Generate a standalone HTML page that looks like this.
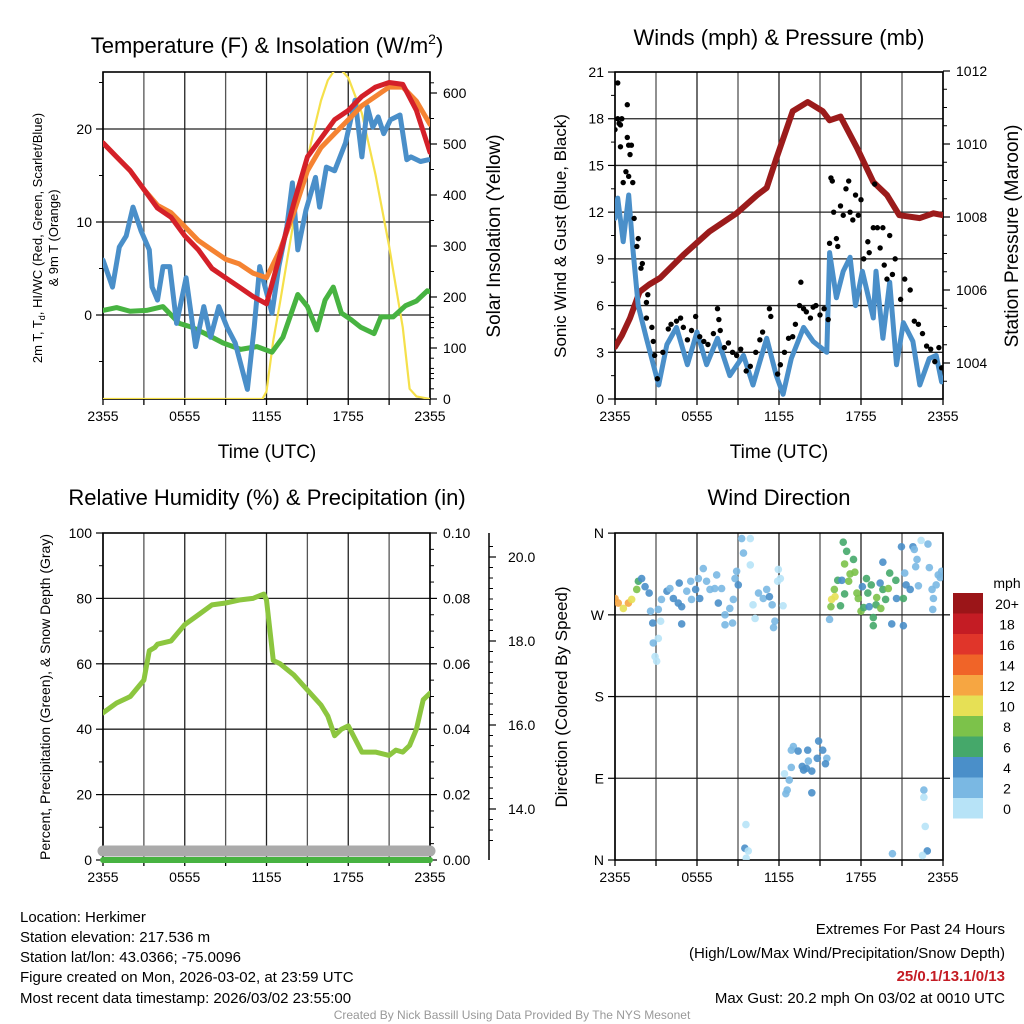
<!DOCTYPE html>
<html><head><meta charset="utf-8"><style>
html,body{margin:0;padding:0;background:#fff;}
svg{display:block;font-family:"Liberation Sans",Arial,sans-serif;}
</style></head><body>
<svg id="c" width="1024" height="1024" viewBox="0 0 1024 1024" xmlns="http://www.w3.org/2000/svg">
<defs>
<clipPath id="c1"><rect x="103" y="72" width="327" height="327"/></clipPath>
<clipPath id="c2"><rect x="615" y="72" width="328" height="327"/></clipPath>
<clipPath id="c3"><rect x="103" y="533" width="327" height="330"/></clipPath>
<clipPath id="c4"><rect x="615" y="533" width="328" height="327"/></clipPath>
</defs>
<g id="static">
<text x="267" y="53" font-size="22" text-anchor="middle">Temperature (F) &amp; Insolation (W/m<tspan font-size="14" dy="-9">2</tspan><tspan dy="9">)</tspan></text>
<text x="779" y="45" font-size="22" text-anchor="middle">Winds (mph) &amp; Pressure (mb)</text>
<text x="267" y="505" font-size="22" text-anchor="middle">Relative Humidity (%) &amp; Precipitation (in)</text>
<text x="779" y="505" font-size="22" text-anchor="middle">Wind Direction</text>
<text x="267" y="458" font-size="19" text-anchor="middle">Time (UTC)</text>
<text x="779" y="458" font-size="19" text-anchor="middle">Time (UTC)</text>
<g font-size="13" text-anchor="middle">
<text transform="translate(42,238) rotate(-90)">2m T, T<tspan font-size="9" dy="3">d</tspan><tspan dy="-3">, HI/WC (Red, Green, Scarlet/Blue)</tspan></text>
<text transform="translate(58,238) rotate(-90)">&amp; 9m T (Orange)</text>
</g>
<text transform="translate(500,236) rotate(-90)" font-size="19" text-anchor="middle">Solar Insolation (Yellow)</text>
<text transform="translate(566,236) rotate(-90)" font-size="17" text-anchor="middle">Sonic Wind &amp; Gust (Blue, Black)</text>
<text transform="translate(1018,236) rotate(-90)" font-size="19" text-anchor="middle">Station Pressure (Maroon)</text>
<text transform="translate(50,697) rotate(-90)" font-size="14" text-anchor="middle">Percent, Precipitation (Green), &amp; Snow Depth (Gray)</text>
<text transform="translate(567,697) rotate(-90)" font-size="17" text-anchor="middle">Direction (Colored By Speed)</text>
<g font-size="15">
<text x="20" y="922">Location: Herkimer</text>
<text x="20" y="942">Station elevation: 217.536 m</text>
<text x="20" y="962">Station lat/lon: 43.0366; -75.0096</text>
<text x="20" y="982">Figure created on Mon, 2026-03-02, at 23:59 UTC</text>
<text x="20" y="1003">Most recent data timestamp: 2026/03/02 23:55:00</text>
</g>
<g font-size="15" text-anchor="end">
<text x="1005" y="934">Extremes For Past 24 Hours</text>
<text x="1005" y="958">(High/Low/Max Wind/Precipitation/Snow Depth)</text>
<text x="1005" y="981" fill="#c41c24" font-weight="bold">25/0.1/13.1/0/13</text>
<text x="1005" y="1003">Max Gust: 20.2 mph On 03/02 at 0010 UTC</text>
</g>
<text x="512" y="1019" font-size="12" fill="#999" text-anchor="middle">Created By Nick Bassill Using Data Provided By The NYS Mesonet</text>
<text x="1007" y="588" font-size="14" text-anchor="middle">mph</text>
</g>
<g id="dyn"></g>
</svg>
<script>
// ---- data ----
const timeTicks=["2355","0555","1155","1755","2355"];
const tempTickVals=[0,10,20];
const insTickVals=[0,100,200,300,400,500,600];
const windTickVals=[0,3,6,9,12,15,18,21];
const presTickVals=[1004,1006,1008,1010,1012];
const rhTickVals=[0,20,40,60,80,100];
const precTickLabels=["0.00","0.02","0.04","0.06","0.08","0.10"];
const precTickVals=[0,0.02,0.04,0.06,0.08,0.10];
const snowTickVals=[14,16,18,20];
const dirTickLabels=["N","E","S","W","N"];
const dirTickVals=[0,90,180,270,360];

const hourly=[0,1,2,3,4,5,6,7,8,9,10,11,12,13,14,15,16,17,18,19,20,21,22,23,24];
const tempRed=[18.5,17,15.5,13.5,11.5,10.5,8.5,7,5,4,3,2,1.2,6.5,12,17,19,21,22,23.5,24.5,25,24.8,22,17.5];
const temp9m=[18.5,17,15.5,13.5,11.8,11,9.5,8,7,6,5.5,4.5,4,7,11,15.5,18,19.5,21,22.5,23.5,24.5,24.5,23,20.5];
const dewH=[0,0.7,1.2,1.7,2.2,2.8,3.4,3.6,4,4.4,4.9,5.4,6.1,6.8,7.4,7.9,8.5,9.1,9.7,10.6,11.1,11.5,12.4,12.9,13.5,13.9,14.3,14.9,15.6,15.9,16.4,17,17.8,18.5,19,19.4,19.8,20.2,20.6,21.1,21.8,22.3,22.6,23.3,23.9];
const dewVal=[5.9,3,7.3,8.5,11.6,9,7,3,1.6,5.2,5.2,-0.9,4,-3.4,0.9,-2.4,0.9,-1.3,-3,-8,-1.3,5.2,0.2,5.2,9.5,14.2,7,11.3,14.8,11.6,15.9,15.5,18.5,23.1,17,22.4,20.2,21.3,19.5,21,21.5,16.7,17,16.5,16.7];
const hiH=[0,1,2,3.2,4.4,5.6,6.5,7.5,8.8,10.1,11.3,12.4,13.2,14.3,15,15.7,16.3,16.9,17.5,18.2,18.9,19.9,20.4,21.3,22.2,23,23.8,24];
const hiVal=[0.5,0.8,0.4,0.5,0.9,-0.9,-1.3,-2,-3,-3.7,-3.4,-4,-2.4,2.2,0.9,-1.6,1.6,3,0.2,-0.5,-1.3,-2,-0.2,-0.2,1,1.5,2.6,2.5];
const insH=[0,11.7,12,12.5,13,13.5,14,14.5,15,15.5,16,16.5,17,17.5,18,19,20,21,21.5,22,22.5,23,24];
const insVal=[0,0,15,115,190,270,350,415,470,530,585,625,645,645,630,560,440,300,220,140,20,5,0];

const presH=[0,0.5,1.1,1.8,2.5,3.3,5,6.9,8.9,10.4,11.1,11.8,13,14.1,15.2,15.7,16.5,17.7,18.9,19.9,20.8,22.3,23.3,24];
const presVal=[1004.44,1004.75,1005.23,1005.95,1006.15,1006.33,1006.96,1007.6,1008.1,1008.6,1008.8,1009.6,1010.9,1011.15,1010.9,1010.65,1010.75,1009.9,1008.96,1008.6,1008.05,1007.97,1008.1,1008.05];
const windH=[0,0.2,0.6,1,1.3,1.7,2.3,3.2,3.8,4.5,5.3,6,6.7,7.5,8.4,9.4,10.1,11.1,11.8,12.3,12.9,13.8,14.5,15.5,15.7,16.2,16.7,17.2,17.6,18.1,18.9,19.1,19.6,20.1,20.6,21.1,21.8,22.3,23,23.5,23.9];
const windVal=[11.6,12.9,10.1,13.1,9.7,6,3.9,0.9,3.5,4.6,2.2,4.3,2.2,3.9,1.5,2.8,0.9,3.9,1.5,0.3,2.6,4.6,3.7,3,9.4,6.5,8.2,9.1,6,8.2,5.2,8.2,3.9,7.5,2.2,4.9,3.7,0.9,2.6,2.8,1.1];
const gustH=[0,0.2,0.2,0.3,0.4,0.5,0.9,0.9,0.4,1,1.2,1.1,0.6,0.8,1,1.3,1.4,1.7,1.6,2,1.9,2.4,2.3,2.3,2.7,2.8,2.9,3.1,3.5,3.9,4.1,4.5,4.8,5,5.3,5.6,5.9,6.2,6.5,6.8,7.2,7.5,7.6,7.7,8,8.3,8.6,8.9,9.2,9.6,9.9,10.3,10.6,10.8,11.3,11.4,11.9,12.1,12.4,12.7,13,13.2,13.5,13.6,13.8,14,14.3,14.5,14.7,15,15.3,15.6,15.7,15.8,15.9,16,16.2,16.3,16.5,16.7,16.9,17.1,17.2,17.4,17.6,17.8,18,18.2,18.5,18.6,18.9,19,19.2,19.4,19.6,19.7,19.9,20.1,20.3,20.5,20.9,21.2,21.6,21.9,22.2,22.5,22.8,23.1,23.4,23.7,23.9];
const gustVal=[17.3,20.3,18,17.7,17.6,18,18.9,16.8,16.2,16.3,16.3,15.7,13.9,14.6,14.3,13.9,11.6,10.3,9.8,8.7,8.4,6.7,6.2,5.2,4.6,3.7,2.8,1.3,3,4.5,4.8,5,5.2,4.6,3.8,4.4,5.3,4,3.7,3.5,4.2,5.8,5.1,4.4,3.3,3.6,3,2.8,3.2,1.8,2.1,3,3.8,4.3,5.8,5.3,1.6,2.2,3,3.9,4,4.8,6,7.5,5.8,5.6,5.2,5.9,6,5.4,5.8,5.1,10,14.2,14,12,10.3,9.8,12.4,11.8,13.5,14,12,11.5,13.1,11.8,12.8,9,10.1,9.4,11,13.8,11,9.7,11,8.6,7.7,10.5,8,9,6.4,7.7,7,5,4.8,4.2,3.4,3.2,2.4,3.3,2];

const rhH=[0,1,2,3,3.4,3.8,4,5,6,7,8,9,10,11,11.8,12,12.5,13,14,15,16,16.5,17,17.5,18,18.5,19,20,21,21.5,22,22.5,23,23.5,24];
const rhVal=[45,48,50,55,64,65,66,67,72,75,78,78.6,79.5,80,81.3,79.5,61,60,56.6,52,47.4,44,38,40,41,37,33,33,32,33.6,33,35,40,49,51];
const precH=[0,24];
const precVal=[0,0];
const snowH=[0,24];
const snowVal=[13,13];

const dirH=[0,0.24,0.61,0.98,1.22,1.59,1.71,1.95,2.2,2.5,2.6,2.76,3.17,3.34,3.17,2.8,2.93,3.05,3.4,3.8,4.02,4.27,4.63,4.88,4.7,4.88,5.25,5.54,5.6,5.9,6.2,6.1,6.46,6.7,6.95,7.3,7.44,7.56,7.8,8.05,8.05,8.4,8.66,8.6,8.78,8.9,9.02,9.27,9.9,9.4,9.9,10.1,10.25,10.5,10.85,11.1,11.3,11.5,11.7,11.6,11.95,12.1,12.3,11.9,9.58,9.5,9.75,9.6,13.05,12.9,13.4,14.1,14.9,15.2,15.5,15.4,14.8,14.4,14,13.7,13.8,14.15,12.9,12.4,12.75,12.6,12.5,14.4,15.7,15.85,15.8,16.05,16.1,16.3,16.6,16.7,16.95,16.8,17.1,17.2,17.45,17.55,16.8,16.5,17.7,17.8,18,18.2,18.1,18.4,18.75,18.5,18.6,18.9,18.9,19.1,19.15,19.4,19.6,19.6,19.8,20,20.1,19.45,20.25,20.55,20.6,20.96,21.1,21.2,21.1,21.3,21.6,21.8,21.9,22.1,22,22.2,22.4,22.9,23,23.2,23.3,23.25,23.5,23.65,23.8,23.9,22.6,22.6,22.7,22.85,22.5,20.3];
const dirVal=[288,283,277,283,287,298,307,310,301,294,274,261,276,263,244,239,224,219,287,296,299,288,283,279,305,260,296,307,287,298,288,310,321,307,298,299,314,283,299,270,259,277,287,261,310,318,303,354,354,338,325,281,266,294,288,298,290,281,263,256,320,310,280,307,39,13,10,2,125,121,120,121,131,121,112,106,112,98,101,103,99,109,102,95,88,77,73,74,265,287,279,298,290,308,308,350,340,326,307,315,331,317,293,280,294,288,274,278,301,310,303,294,279,267,258,281,289,305,328,298,287,299,316,277,260,308,288,345,288,316,258,303,298,345,342,331,323,302,352,348,322,298,288,276,303,314,311,318,77,69,37,10,5,7];
const dirSpd=[12,12,10,12,10,8,6,4,4,4,2,4,2,0,0,2,0,0,2,4,2,4,4,4,4,4,2,2,2,4,4,2,2,2,2,2,2,4,2,2,2,2,2,2,2,2,4,2,0,2,0,0,0,2,2,2,4,2,2,2,0,0,0,0,0,4,0,0,2,2,4,4,4,4,2,4,4,4,4,4,4,2,2,0,2,2,2,4,2,10,8,8,10,6,4,6,6,8,8,8,6,8,6,6,8,8,8,6,4,6,6,6,4,6,6,6,8,4,4,6,6,8,6,8,4,6,4,4,6,2,4,4,4,4,2,2,2,2,0,2,2,2,2,2,2,2,2,2,2,0,0,4,0,2];
const cbLabels=["20+","18","16","14","12","10","8","6","4","2","0"];
const cbColors=["#9b1518","#c41c24","#e0352a","#f06428","#f6a642","#e6e055","#7cc24a","#45a86a","#4a8fc9","#7ab8e3","#b7e3f7"];

// ---- scales ----
const X1=h=>103+h*327/24, X2=h=>615+h*328/24;
const Yt=v=>315-v*9.3, Ys=v=>399-v*0.51;
const Yw=v=>399-v*15.57, Yp=p=>363-(p-1004)*36.5;
const Yrh=v=>860-v*3.27, Ypr=v=>860-v*3270, Ysd=v=>809-(v-14)*42;
const Yd=d=>860-d*0.908;

const NS="http://www.w3.org/2000/svg";
const root=document.getElementById('dyn');
function mk(tag,attrs,parent){const e=document.createElementNS(NS,tag);for(const k in attrs)e.setAttribute(k,attrs[k]);(parent||root).appendChild(e);return e;}
function grp(name,clip){const g=mk('g',clip?{'clip-path':'url(#'+clip+')'}:{});


return g;}
function line(xs,ys,X,Y,color,w,name,clip){const g=grp(name,clip);
const pts=xs.map((h,i)=>X(h).toFixed(1)+','+Y(ys[i]).toFixed(1)).join(' ');
const p=mk('polyline',{points:pts,fill:'none',stroke:color,'stroke-width':w,'stroke-linejoin':'round','stroke-linecap':'round'},g);

}
function txt(x,y,s,anchor,size,parent){const t=mk('text',{x:x,y:y,'text-anchor':anchor,'font-size':size||14},parent);t.textContent=s;return t;}

function frame(x0,x1,y0,y1,X,name,hgrid){
  const g=grp(name);
  for(let h=0;h<=24;h+=3){mk('line',{x1:X(h),x2:X(h),y1:y0,y2:y1,stroke:(h%6===0)?'#222':'#555','stroke-width':1.3},g);
    mk('line',{x1:X(h),x2:X(h),y1:y1,y2:y1+6,stroke:'#000','stroke-width':1.3},g);}
  hgrid.forEach(y=>mk('line',{x1:x0,x2:x1,y1:y,y2:y,stroke:'#222','stroke-width':1.3},g));
  mk('rect',{x:x0,y:y0,width:x1-x0,height:y1-y0,fill:'none',stroke:'#000','stroke-width':1.6},g);
  timeTicks.forEach((s,i)=>{const t=txt(X(i*6),y1+22,s,'middle',14,g);
    
    });
  return g;}
function leftTicks(vals,labels,Y,x,g,minor){vals.forEach((v,i)=>{mk('line',{x1:x-7,x2:x,y1:Y(v),y2:Y(v),stroke:'#000','stroke-width':1.2},g);
  const t=txt(x-11,Y(v)+5,labels?labels[i]:String(v),'end',14,g);
  
  });
  (minor||[]).forEach(v=>mk('line',{x1:x-4,x2:x,y1:Y(v),y2:Y(v),stroke:'#000','stroke-width':1},g));}
function rightTicks(vals,labels,Y,x,g,minor){vals.forEach((v,i)=>{mk('line',{x1:x,x2:x+7,y1:Y(v),y2:Y(v),stroke:'#000','stroke-width':1.2},g);
  const t=txt(x+13,Y(v)+5,labels?labels[i]:String(v),'start',14,g);
  
  });
  (minor||[]).forEach(v=>mk('line',{x1:x,x2:x+4,y1:Y(v),y2:Y(v),stroke:'#000','stroke-width':1},g));}

// Panel 1
let g1=frame(103,430,72,399,X1,'temp-panel',tempTickVals.map(Yt));
leftTicks(tempTickVals,null,Yt,103,g1,[-5,5,15,25]);
rightTicks(insTickVals,null,Ys,430,g1,[50,150,250,350,450,550,620,20,40,60,80,120,140,160,180]);
line(insH,insVal,X1,Ys,'#f5e04a',2.2,'insolation',"c1");
line(hiH,hiVal,X1,Yt,'#47b341',5,'heat-index',"c1");
line(dewH,dewVal,X1,Yt,'#4a8fc9',5,'dewpoint',"c1");
line(hourly,temp9m,X1,Yt,'#f58332',5,'temp-9m',"c1");
line(hourly,tempRed,X1,Yt,'#d42029',5,'temp-2m',"c1");

// Panel 2
let g2=frame(615,943,72,399,X2,'winds-panel',windTickVals.map(Yw));
leftTicks(windTickVals,null,Yw,615,g2,[1.5,4.5,7.5,10.5,13.5,16.5,19.5]);
rightTicks(presTickVals,null,Yp,943,g2,[1003.5,1004.5,1005,1005.5,1006.5,1007,1007.5,1008.5,1009,1009.5,1010.5,1011,1011.5]);
line(presH,presVal,X2,Yp,'#9b1b1b',6,'pressure',"c2");
line(windH,windVal,X2,Yw,'#4a8fc9',5,'sonic-wind',"c2");
const gg=grp('gust-points',"c2");
gustH.forEach((h,i)=>{const c=mk('circle',{cx:X2(h),cy:Yw(gustVal[i]),r:2.7,fill:'#000'},gg);
  
  });

// Panel 3
let g3=frame(103,430,533,860,X1,'rh-panel',rhTickVals.slice(1,5).map(Yrh));
leftTicks(rhTickVals,null,Yrh,103,g3,[10,30,50,70,90]);
rightTicks(precTickVals,precTickLabels,Ypr,430,g3,[0.01,0.03,0.05,0.07,0.09,0.005,0.015,0.025,0.035,0.045,0.055,0.065,0.075,0.085,0.095]);
const sg=grp('snow-axis');
mk('line',{x1:489,x2:489,y1:533,y2:860,stroke:'#000','stroke-width':1.5},sg);
snowTickVals.forEach(v=>{mk('line',{x1:489,x2:496,y1:Ysd(v),y2:Ysd(v),stroke:'#000','stroke-width':1.2},sg);
  const t=txt(508,Ysd(v)+5,v.toFixed(1),'start',14,sg);
  
  });
[13.25,13.5,13.75,14.25,14.5,14.75,15,15.25,15.5,15.75,16.25,16.5,16.75,17,17.25,17.5,17.75,18.25,18.5,18.75,19,19.25,19.5,19.75,20.25].forEach(v=>mk('line',{x1:489,x2:493,y1:Ysd(v),y2:Ysd(v),stroke:'#000','stroke-width':1},sg));
line(snowH,snowVal,X1,Ysd,'#aaaaaa',11,'snow-depth',null);
line(precH,precVal,X1,Ypr,'#47b341',6,'precipitation',null);
line(rhH,rhVal,X1,Yrh,'#8cc63f',5,'relative-humidity',"c3");

// Panel 4
let g4=frame(615,943,533,860,X2,'wdir-panel',[90,180,270].map(Yd));
leftTicks(dirTickVals,dirTickLabels,Yd,615,g4,[]);
rightTicks([90,180,270],['','',''],Yd,943,g4,[]);
const dg=grp('wind-direction-points',"c4");
const colorFor=s=>cbColors[10-Math.min(10,Math.floor(s/2))];
dirH.forEach((h,i)=>{const c=mk('circle',{cx:X2(h),cy:Yd(dirVal[i]),r:3.8,fill:colorFor(dirSpd[i]),'fill-opacity':0.9},dg);
  
  });

// colorbar
const cb=grp('colorbar');
cbLabels.forEach((s,i)=>{const r=mk('rect',{x:953,y:593+i*20.5,width:30,height:20.5,fill:cbColors[i]},cb);
  
  
  const t=txt(1007,593+i*20.5+16,s,'middle',14,cb);
  
  });
</script>
</body></html>
